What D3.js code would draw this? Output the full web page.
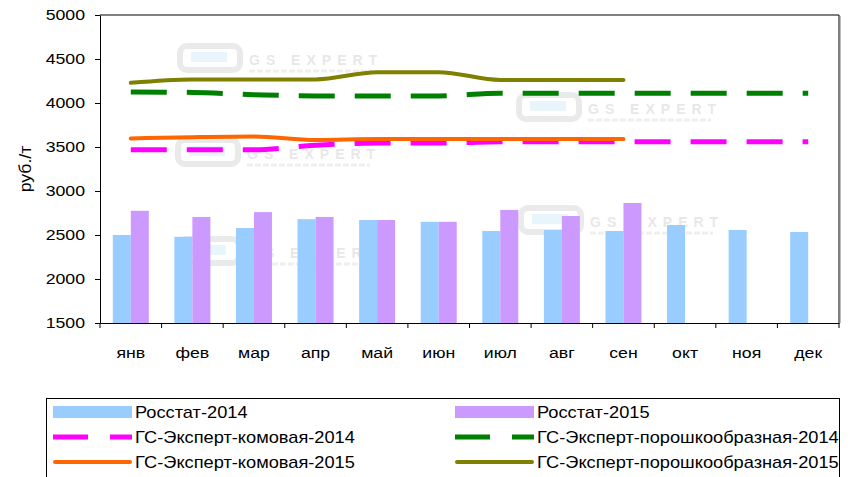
<!DOCTYPE html>
<html><head><meta charset="utf-8">
<script src="https://cdn.jsdelivr.net/npm/d3@7"></script>
<style>body{margin:0;background:#fff;} text{font-family:"Liberation Sans",Arial,sans-serif;}</style>
</head><body><svg id="c" width="856" height="477"></svg>
<script>
const months = ["янв","фев","мар","апр","май","июн","июл","авг","сен","окт","ноя","дек"];
const yTicks = [1500,2000,2500,3000,3500,4000,4500,5000];
const rosstat2014 = [2500,2480,2580,2680,2670,2650,2545,2557,2545,2614,2557,2535];
const rosstat2015 = [2775,2705,2760,2705,2670,2650,2785,2716,2864];
const komovaya2014 = [3470,3470,3470,3520,3545,3545,3560,3560,3560,3560,3560,3560];
const poroshok2014 = [4125,4120,4095,4080,4080,4080,4112,4112,4112,4112,4112,4112];
const komovaya2015 = [3598,3612,3620,3580,3590,3590,3592,3592,3592];
const poroshok2015 = [4230,4268,4268,4268,4350,4350,4262,4262,4262];
const seriesNames = ["Росстат-2014","Росстат-2015","ГС-Эксперт-комовая-2014","ГС-Эксперт-порошкообразная-2014","ГС-Эксперт-комовая-2015","ГС-Эксперт-порошкообразная-2015"];

const SX = 1.18; // horizontal stretch of text in the original
const SXL = 1.14;
const svg = d3.select("#c");
const L=100, R=839, T=15, B=323;
const x = d3.scaleBand().domain(months).range([L,R]);
const y = d3.scaleLinear().domain([1500,5000]).range([B,T]);

// watermarks
const wm = [[177,43],[516,92],[175,137],[518,205],[176,236]];
const wg = svg.append("g").attr("opacity",0.15);
wm.forEach(([wx,wy])=>{
  wg.append("rect").attr("x",wx+3).attr("y",wy+3).attr("width",60).attr("height",24).attr("rx",7)
    .attr("fill","none").attr("stroke","#777").attr("stroke-width",6);
  wg.append("rect").attr("x",wx+14).attr("y",wy+9).attr("width",36).attr("height",10).attr("fill","#6cc4ee");
  wg.append("text").attr("x",wx+72).attr("y",wy+22).attr("font-size",14).attr("letter-spacing",6)
    .attr("font-weight","bold").attr("fill","#666").text("GS EXPERT");
  wg.append("line").attr("x1",wx+72).attr("x2",wx+195).attr("y1",wy+28).attr("y2",wy+28)
    .attr("stroke","#999").attr("stroke-width",3).attr("stroke-dasharray","6,2");
});

// bars
const bw = 18;
const cx = m => x(m)+x.bandwidth()/2;
svg.append("g").selectAll("rect").data(rosstat2014).join("rect")
  .attr("x",(d,i)=>cx(months[i])-bw).attr("width",bw)
  .attr("y",d=>y(d)).attr("height",d=>B-y(d)).attr("fill","#99CCFF");
svg.append("g").selectAll("rect").data(rosstat2015).join("rect")
  .attr("x",(d,i)=>cx(months[i])).attr("width",bw)
  .attr("y",d=>y(d)).attr("height",d=>B-y(d)).attr("fill","#CC99FF");

// lines
const line = d3.line().x((d,i)=>cx(months[i])).y(d=>y(d)).curve(d3.curveMonotoneX);
function drawLine(data,color,width,dash){
  const p = svg.append("path").datum(data).attr("d",line).attr("fill","none")
    .attr("stroke",color).attr("stroke-width",width);
  if(dash) p.attr("stroke-dasharray",dash); else p.attr("stroke-linecap","round").attr("stroke-linejoin","round");
}
drawLine(komovaya2014,"#FF00FF",5,"36,20");
drawLine(poroshok2014,"#008000",5,"36,20");
drawLine(komovaya2015,"#FF6600",4,null);
drawLine(poroshok2015,"#808000",4,null);

// frame
svg.append("path").attr("d",`M${L},${T}H${R}V${B}`).attr("fill","none").attr("stroke","#000").attr("stroke-width",1);
svg.append("line").attr("x1",R+1.5).attr("x2",R+1.5).attr("y1",T+1).attr("y2",B).attr("stroke","#bbb");

// axes
const ya = svg.append("g").attr("transform",`translate(${L},0)`)
  .call(d3.axisLeft(y).tickValues(yTicks).tickSize(5).tickSizeOuter(0).tickFormat(d3.format("d")));
ya.select(".domain").attr("stroke","#000");
ya.selectAll(".tick line").attr("stroke","#000");
ya.selectAll("text").attr("font-size",15).attr("fill","#000")
  .attr("x",-15/SX).attr("transform",`scale(${SX},1)`);
const xa = svg.append("g").attr("transform",`translate(0,${B})`)
  .call(d3.axisBottom(x).tickSize(0).tickPadding(24));
xa.select(".domain").attr("stroke","#000");
xa.selectAll("text").attr("font-size",15).attr("fill","#000").attr("transform",`scale(${SX},1)`);
svg.append("g").selectAll("line").data(d3.range(13)).join("line")
  .attr("x1",i=>L+i*x.bandwidth()).attr("x2",i=>L+i*x.bandwidth())
  .attr("y1",B).attr("y2",B+5).attr("stroke","#000");

svg.append("text").attr("transform",`translate(31,${(T+B)/2}) rotate(-90) scale(1.1,1)`)
  .attr("text-anchor","middle").attr("font-size",16).text("руб./т");

// legend
svg.append("rect").attr("x",46.5).attr("y",398.5).attr("width",793).attr("height",90)
  .attr("fill","none").attr("stroke","#000");
const cols=[53,455], rows=[412,437,462];
const items=[
  {n:seriesNames[0],t:"bar",c:"#99CCFF"},{n:seriesNames[1],t:"bar",c:"#CC99FF"},
  {n:seriesNames[2],t:"dash",c:"#FF00FF"},{n:seriesNames[3],t:"dash",c:"#008000"},
  {n:seriesNames[4],t:"line",c:"#FF6600"},{n:seriesNames[5],t:"line",c:"#808000"}];
items.forEach((it,i)=>{
  const lx=cols[i%2], ly=rows[Math.floor(i/2)];
  const g=svg.append("g");
  if(it.t==="bar") g.append("rect").attr("x",lx).attr("y",ly-6).attr("width",79).attr("height",12).attr("fill",it.c);
  else if(it.t==="dash") g.append("line").attr("x1",lx).attr("x2",lx+79).attr("y1",ly).attr("y2",ly)
    .attr("stroke",it.c).attr("stroke-width",5).attr("stroke-dasharray","35,22");
  else g.append("line").attr("x1",lx+2).attr("x2",lx+77).attr("y1",ly).attr("y2",ly)
    .attr("stroke",it.c).attr("stroke-width",4).attr("stroke-linecap","round");
  g.append("text").attr("transform",`translate(${lx+82},${ly+6}) scale(${SXL},1)`)
    .attr("font-size",16).text(it.n);
});
</script></body></html>
